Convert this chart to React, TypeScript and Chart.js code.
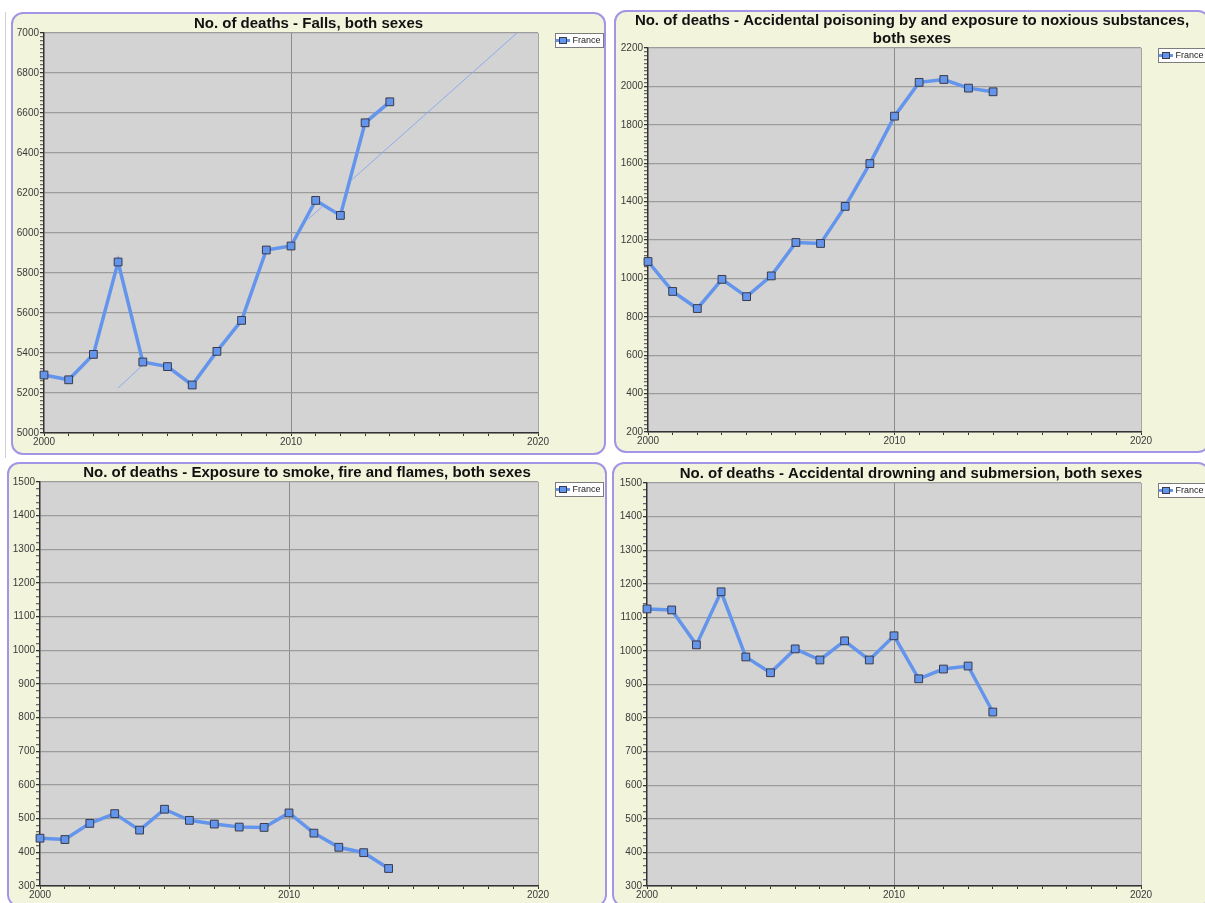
import React, { useEffect, useRef } from "react";
import { Chart, registerables } from "chart.js";

Chart.register(...registerables);

// ---------- data ----------
const years = [2000, 2001, 2002, 2003, 2004, 2005, 2006, 2007, 2008, 2009, 2010, 2011, 2012, 2013, 2014];
const fallsValues = [5290, 5266, 5393, 5855, 5355, 5332, 5240, 5408, 5563, 5915, 5935, 6163, 6088, 6551, 6656];
const poisoningValues = [1088, 932, 843, 995, 905, 1013, 1187, 1182, 1375, 1598, 1845, 2021, 2036, 1991, 1972];
const smokeValues = [442, 438, 486, 515, 466, 528, 495, 484, 475, 474, 517, 457, 415, 399, 352];
const drowningValues = [1125, 1122, 1018, 1176, 982, 935, 1006, 973, 1030, 973, 1045, 917, 946, 955, 818];
// faint straight line visible in the Falls panel (in pieces)
const fallsTrendYears = [2003, 2004, 2004.5, 2010.7, 2011.25, 2011.8, 2012.45, 2019.15];
const fallsTrendValues: (number | null)[] = [5225, 5340, null, 6070, 6130, null, 6265, 7000];

const seriesName = "France";
const xMin = 2000;
const xMax = 2020;
const xLabelEvery = 10;

const titles: (string | string[])[] = [
  "No. of deaths - Falls, both sexes",
  ["No. of deaths - Accidental poisoning by and exposure to noxious substances,", "both sexes"],
  "No. of deaths - Exposure to smoke, fire and flames, both sexes",
  "No. of deaths - Accidental drowning and submersion, both sexes",
];

// ---------- styles ----------
const FONT = '"Liberation Sans", Arial, Helvetica, sans-serif';
const LINE = "#6495ed";
const BORDER = 2;
const GAP = 17;

type Spec = {
  title: string | string[];
  values: number[];
  yMin: number;
  yMax: number;
  yMajor: number;
  yMinor: number;
  box: { left: number; top: number; width: number; height: number };
  plot: { left: number; top: number; right: number; bottom: number };
  trend?: boolean;
};

const specs: Spec[] = [
  {
    title: titles[0], values: fallsValues, yMin: 5000, yMax: 7000, yMajor: 200, yMinor: 20,
    box: { left: 11, top: 12, width: 595, height: 443 },
    plot: { left: 31, top: 19, right: 525, bottom: 419 }, trend: true,
  },
  {
    title: titles[1], values: poisoningValues, yMin: 200, yMax: 2200, yMajor: 200, yMinor: 20,
    box: { left: 614, top: 10, width: 596, height: 443 },
    plot: { left: 32, top: 36, right: 525, bottom: 420 },
  },
  {
    title: titles[2], values: smokeValues, yMin: 300, yMax: 1500, yMajor: 100, yMinor: 20,
    box: { left: 7, top: 462, width: 600, height: 445 },
    plot: { left: 31, top: 18, right: 529, bottom: 422 },
  },
  {
    title: titles[3], values: drowningValues, yMin: 300, yMax: 1500, yMajor: 100, yMinor: 20,
    box: { left: 612, top: 462, width: 598, height: 445 },
    plot: { left: 33, top: 19, right: 527, bottom: 422 },
  },
];

function makeMarker(): HTMLCanvasElement {
  const c = document.createElement("canvas");
  c.width = 14;
  c.height = 9;
  const g = c.getContext("2d")!;
  g.strokeStyle = LINE;
  g.lineWidth = 3;
  g.beginPath();
  g.moveTo(0, 4.5);
  g.lineTo(14, 4.5);
  g.stroke();
  g.fillStyle = LINE;
  g.fillRect(3.5, 1.5, 7, 6);
  g.strokeStyle = "#3a3a48";
  g.lineWidth = 1;
  g.strokeRect(3.5, 1.5, 7, 6);
  return c;
}

const decorPlugin = {
  id: "panelDecor",
  beforeDraw(chart: any) {
    const { ctx, chartArea: a } = chart;
    ctx.save();
    ctx.fillStyle = "#d3d3d3";
    ctx.fillRect(a.left, a.top, a.right - a.left, a.bottom - a.top);
    const hb = chart.legend && chart.legend.legendHitBoxes && chart.legend.legendHitBoxes[0];
    if (hb) {
      const x = Math.round(hb.left - 3) + 0.5;
      const y = Math.round(hb.top - 3) + 0.5;
      const w = Math.round(hb.width + 5);
      const h = Math.round(hb.height + 5);
      ctx.fillStyle = "#ffffff";
      ctx.fillRect(x, y, w, h);
      ctx.strokeStyle = "#7c7c7c";
      ctx.lineWidth = 1;
      ctx.strokeRect(x, y, w, h);
    }
    ctx.restore();
  },
};

function Panel({ spec }: { spec: Spec }) {
  const ref = useRef<HTMLCanvasElement>(null);
  const cw = spec.box.width - 2 * BORDER;
  const ch = spec.box.height - 2 * BORDER;

  useEffect(() => {
    const canvas = ref.current!;
    const titleLines = Array.isArray(spec.title) ? spec.title.length : 1;
    const titleRoom = Math.max(0, spec.plot.top - titleLines * 18);
    const titlePadTop = Math.min(1, titleRoom);
    const titlePadBottom = titleRoom - titlePadTop;
    const datasets: any[] = [
      {
        label: seriesName,
        data: years.map((x, i) => ({ x, y: spec.values[i] })),
        borderColor: LINE,
        backgroundColor: LINE,
        borderWidth: 3.5,
        pointStyle: "rect",
        pointRadius: 5.5,
        pointBackgroundColor: LINE,
        pointBorderColor: "#3a3a48",
        pointBorderWidth: 1,
        tension: 0,
        clip: false,
        xAxisID: "x",
        yAxisID: "y",
        order: 0,
      },
    ];
    if (spec.trend) {
      datasets.push({
        label: "trend",
        data: fallsTrendYears.map((x, i) => ({ x, y: fallsTrendValues[i] })),
        borderColor: "#8eaaf0",
        borderWidth: 1,
        pointRadius: 0,
        spanGaps: false,
        tension: 0,
        xAxisID: "x",
        yAxisID: "y",
        order: 1,
      });
    }
    const tickFont = { family: FONT, size: 10 };
    const chart = new Chart(canvas, {
      type: "line",
      data: { datasets },
      options: {
        responsive: false,
        animation: false,
        devicePixelRatio: 1,
        layout: { padding: 0 },
        events: [],
        plugins: {
          title: {
            display: true,
            text: spec.title,
            color: "#111111",
            font: { family: FONT, size: 15, weight: "bold", lineHeight: 1.2 },
            padding: { top: titlePadTop, bottom: titlePadBottom },
          },
          legend: {
            display: true,
            position: "right",
            align: "start",
            fullSize: false,
            maxWidth: cw - spec.plot.right - GAP,
            labels: {
              usePointStyle: true,
              pointStyle: makeMarker(),
              pointStyleWidth: 10,
              padding: 3,
              color: "#222222",
              font: { family: FONT, size: 9 },
              filter: (item: any) => item.datasetIndex === 0,
            },
          },
          tooltip: { enabled: false },
        },
        scales: {
          x: {
            type: "linear",
            position: "bottom",
            min: xMin,
            max: xMax,
            afterFit: (s: any) => {
              s.height = ch - spec.plot.bottom;
            },
            ticks: {
              stepSize: 1,
              autoSkip: false,
              maxRotation: 0,
              minRotation: 0,
              padding: 0,
              color: "#3a3a3a",
              font: tickFont,
              callback: (v: any) => (Math.round(Number(v)) % xLabelEvery === 0 ? String(Math.round(Number(v))) : ""),
            },
            grid: {
              drawTicks: true,
              tickLength: 3,
              tickColor: "#333333",
              lineWidth: 1,
              color: (c: any) => {
                const v = Math.round(c.tick ? c.tick.value : 0);
                if (v === 2010) return "#8c8c8c";
                if (v === xMax) return "#a6a6a6";
                return "rgba(0,0,0,0)";
              },
            },
            border: { display: true, color: "#333333", width: 1.5 },
          },
          y: {
            type: "linear",
            position: "left",
            min: spec.yMin,
            max: spec.yMax,
            afterFit: (s: any) => {
              s.width = spec.plot.left;
            },
            ticks: {
              stepSize: spec.yMinor,
              autoSkip: false,
              padding: 1,
              color: "#3a3a3a",
              font: tickFont,
              callback: (v: any) => (Math.round(Number(v)) % spec.yMajor === 0 ? String(Math.round(Number(v))) : ""),
            },
            grid: {
              drawTicks: true,
              tickLength: 4,
              tickColor: (c: any) => {
                const v = Math.round(c.tick ? c.tick.value : 0);
                return v % spec.yMajor === 0 ? "#333333" : "#6a6a6a";
              },
              lineWidth: 1.3,
              color: (c: any) => {
                const v = Math.round(c.tick ? c.tick.value : 0);
                return v % spec.yMajor === 0 ? "#9c9c9c" : "rgba(0,0,0,0)";
              },
            },
            border: { display: true, color: "#333333", width: 1.5 },
          },
          gap: {
            type: "linear",
            position: "right",
            display: true,
            afterFit: (s: any) => {
              s.width = GAP;
            },
            ticks: { display: false },
            grid: { display: false, drawTicks: false },
            border: { display: false },
          },
        },
      } as any,
      plugins: [decorPlugin],
    });
    return () => chart.destroy();
  }, []);

  return (
    <div
      style={{
        position: "absolute",
        left: spec.box.left,
        top: spec.box.top,
        width: spec.box.width,
        height: spec.box.height,
        boxSizing: "border-box",
        border: `${BORDER}px solid #a394e6`,
        borderRadius: 12,
        background: "#f2f4dc",
        overflow: "hidden",
      }}
    >
      <canvas ref={ref} width={cw} height={ch} style={{ display: "block", width: cw, height: ch }} />
    </div>
  );
}

export default function App() {
  return (
    <div
      style={{
        position: "fixed",
        left: 0,
        top: 0,
        width: 1205,
        height: 903,
        background: "#ffffff",
        overflow: "hidden",
      }}
    >
      <div style={{ position: "absolute", left: 5, top: 12, width: 1, height: 446, background: "#d0d0d0" }} />
      {specs.map((s, i) => (
        <Panel key={i} spec={s} />
      ))}
    </div>
  );
}
